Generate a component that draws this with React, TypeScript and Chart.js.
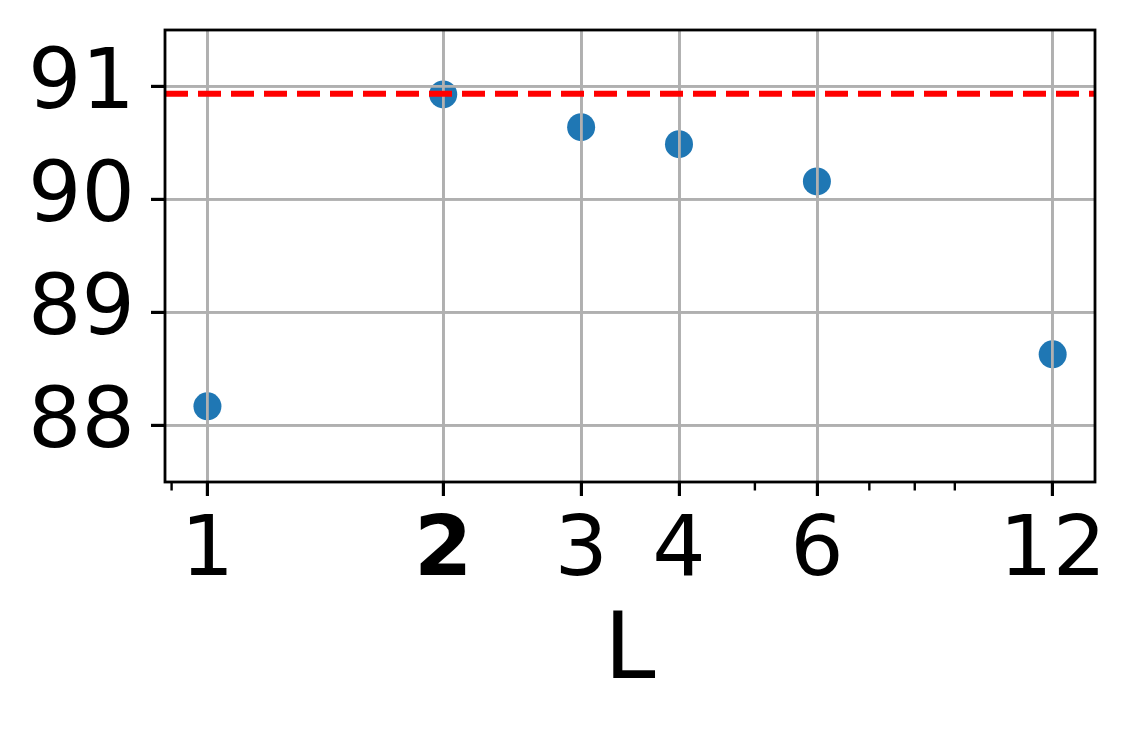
import React, { useEffect, useRef } from "react";
import { Chart, registerables } from "chart.js";

Chart.register(...registerables);

const xValues = [1, 2, 3, 4, 6, 12];
const yValues = [88.17, 90.93, 90.64, 90.49, 90.16, 88.63];
const refValue = 90.935;
const xTickValues = [1, 2, 3, 4, 6, 12];
const xMinorTicks = [0.9, 5, 7, 8, 9];
const yTickValues = [88, 89, 90, 91];
const xLimits = [0.8827, 13.59];
const yLimits = [87.5, 91.5];
const boldTick = 2;
const xTitle = "L";

const FONT = "DejaVu Sans";

export default function App() {
  const ref = useRef<HTMLCanvasElement | null>(null);

  useEffect(() => {
    if (!ref.current) return;
    document.body.style.margin = "0";

    const overlay = {
      id: "overlay",
      afterDatasetDraw(chart: any, args: any) {
        // matplotlib draws grid above scatter points
        if (args.index === 1) {
          const ca = chart.chartArea;
          chart.scales.x.drawGrid(ca);
          chart.scales.y.drawGrid(ca);
        }
      },
      afterDraw(chart: any) {
        const ctx = chart.ctx;
        const ca = chart.chartArea;
        const xs = chart.scales.x;
        ctx.save();
        // minor ticks
        ctx.strokeStyle = "#000";
        ctx.lineWidth = 2.4;
        for (const v of xMinorTicks) {
          const px = xs.getPixelForValue(v);
          ctx.beginPath();
          ctx.moveTo(px, ca.bottom);
          ctx.lineTo(px, ca.bottom + 8.5);
          ctx.stroke();
        }
        // frame
        ctx.lineWidth = 2.8;
        ctx.strokeRect(ca.left, ca.top, ca.right - ca.left, ca.bottom - ca.top);
        ctx.restore();
      },
    };

    const chart = new Chart(ref.current, {
      type: "scatter",
      data: {
        datasets: [
          {
            type: "line",
            data: [
              { x: xLimits[0], y: refValue },
              { x: xLimits[1], y: refValue },
            ],
            borderColor: "#ff0000",
            borderWidth: 6,
            borderDash: [23, 10],
            borderCapStyle: "butt",
            pointRadius: 0,
            fill: false,
            order: 0,
          } as any,
          {
            type: "scatter",
            data: xValues.map((x, i) => ({ x, y: yValues[i] })),
            backgroundColor: "#1f77b4",
            borderWidth: 0,
            pointRadius: 14,
            pointHoverRadius: 14,
            order: 1,
          } as any,
        ],
      },
      options: {
        animation: false,
        responsive: false,
        devicePixelRatio: 1,
        events: [],
        layout: { padding: { top: 30, right: 41, left: 0, bottom: 0 } },
        plugins: {
          legend: { display: false },
          tooltip: { enabled: false },
        },
        scales: {
          x: {
            type: "logarithmic",
            min: xLimits[0],
            max: xLimits[1],
            afterBuildTicks: (scale: any) => {
              scale.ticks = xTickValues.map((v) => ({ value: v }));
            },
            afterFit: (scale: any) => {
              scale.height = 729 - 482;
              scale.paddingLeft = 0;
              scale.paddingRight = 0;
            },
            ticks: {
              autoSkip: false,
              minRotation: 0,
              maxRotation: 0,
              padding: 7,
              color: "#000",
              callback: (v: any) => String(v),
              font: (ctx: any) => ({
                family: FONT,
                size: 84,
                weight: ctx.tick && ctx.tick.value === boldTick ? "bold" : "normal",
              }),
            },
            grid: {
              color: "#b0b0b0",
              lineWidth: 2.8,
              tickColor: "#000",
              tickWidth: 3,
              tickLength: 14,
            },
            border: { display: false },
            title: {
              display: true,
              text: xTitle,
              color: "#000",
              font: { family: FONT, size: 92 },
              padding: { top: 0, bottom: 20 },
            },
          },
          y: {
            type: "linear",
            min: yLimits[0],
            max: yLimits[1],
            afterBuildTicks: (scale: any) => {
              scale.ticks = yTickValues.map((v) => ({ value: v }));
            },
            afterFit: (scale: any) => {
              scale.width = 165;
              scale.paddingTop = 0;
              scale.paddingBottom = 0;
            },
            ticks: {
              padding: 16,
              color: "#000",
              callback: (v: any) => String(v),
              font: { family: FONT, size: 84 },
            },
            grid: {
              color: "#b0b0b0",
              lineWidth: 2.8,
              tickColor: "#000",
              tickWidth: 3,
              tickLength: 14,
            },
            border: { display: false },
          },
        },
      },
      plugins: [overlay],
    });
    return () => chart.destroy();
  }, []);

  return (
    <div style={{ position: "fixed", left: 0, top: 0, width: 1136, height: 729, background: "#fff" }}>
      <canvas ref={ref} width={1136} height={729} />
    </div>
  );
}
